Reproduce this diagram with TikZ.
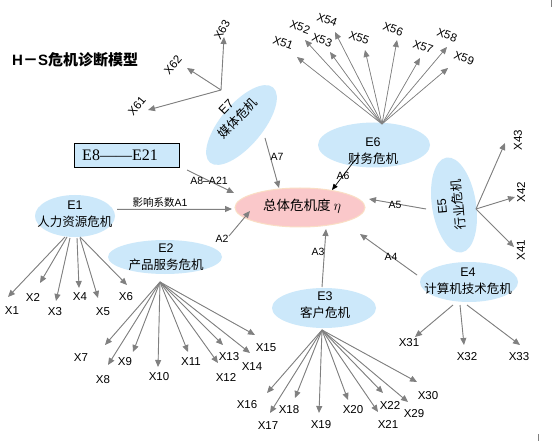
\documentclass[tikz,border=0pt]{standalone}
\usepackage{fontspec}
\setmainfont{Liberation Sans}
\newfontfamily\cjk{Noto Sans CJK SC}
\newfontfamily\serifE{Liberation Serif}
\usetikzlibrary{shapes.geometric,arrows.meta}
\definecolor{ellblue}{RGB}{204,232,250}
\definecolor{ellpink}{RGB}{250,200,202}
\definecolor{pinkedge}{RGB}{250,222,196}
\definecolor{arrgray}{RGB}{128,128,128}
\begin{document}
\begin{tikzpicture}[x=1pt,y=-1pt,
  ell/.style={ellipse, fill=ellblue, draw=none, inner sep=0pt},
  etext/.style={align=center, inner sep=0pt, font=\fontsize{12.5}{16.5}\selectfont},
  xl/.style={inner sep=0pt, font=\fontsize{11.5}{12}\selectfont},
  al/.style={inner sep=0pt, font=\fontsize{10.5}{11}\selectfont},
  arr/.style={draw=arrgray, fill=arrgray, line width=0.9pt, -{Triangle[length=7pt,width=6pt]}},
  blackarr/.style={draw=black, line width=0.7pt, -{Triangle[length=6pt,width=5pt]}},
]
\fill[white] (0,0) rectangle (552,441);
\useasboundingbox (0,0) rectangle (552,441);

% title
\node[anchor=west, inner sep=0pt, font=\bfseries\fontsize{15}{15}\selectfont] (title) at (12,60)
  {H{\cjk\bfseries －}S{\cjk\bfseries 危机诊断模型}};

% E8--E21 box
\node[draw=black, fill=ellblue, line width=0.8pt, minimum width=105, minimum height=24, inner sep=0pt] (e8) at (126.5,155.3) {};
\node[inner sep=0pt, font=\serifE\fontsize{16}{16}\selectfont] (e8t) at (120,155.5) {E8——E21};

% ellipses
\node[ell, minimum width=80, minimum height=42] (e1) at (75,216) {};
\node[etext] (e1t) at (75,214) {E1\\{\cjk 人力资源危机}};
\node[ell, minimum width=114, minimum height=34] (e2) at (165,257) {};
\node[etext] (e2t) at (166,257) {E2\\{\cjk 产品服务危机}};
\node[ell, minimum width=104, minimum height=40] (e3) at (324,308) {};
\node[etext] (e3t) at (325,305) {E3\\{\cjk 客户危机}};
\node[ell, minimum width=98, minimum height=40] (e4) at (469,282) {};
\node[etext] (e4t) at (468,281) {E4\\{\cjk 计算机技术危机}};
\node[ell, minimum width=96, minimum height=44, rotate=99] (e5) at (454,205) {};
\node[etext, rotate=95] (e5t) at (451,205.5) {E5\\{\cjk 行业危机}};
\node[ell, minimum width=112, minimum height=45] (e6) at (374,145) {};
\node[etext] (e6t) at (373,151) {E6\\{\cjk 财务危机}};
\node[ell, minimum width=98, minimum height=42, rotate=50] (e7) at (241.5,125) {};
\node[etext, rotate=46] (e7t) at (232.5,113) {E7\\{\cjk 媒体危机}};

% centre
\node[ellipse, fill=ellpink, draw=pinkedge, line width=1pt, minimum width=130, minimum height=39, inner sep=0pt] (c) at (300,207.5) {};
\node[inner sep=0pt, font=\cjk\fontsize{13.5}{14}\selectfont] (ct) at (302,206) {总体危机度 $\eta$};

% influence arrows into the centre
\coordinate (a1s) at (117,209); \coordinate (a1e) at (232,209);
\draw[arr] (a1s) -- (a1e);
\node[al] (a1l) at (160,203) {{\cjk 影响系数}A1};
\coordinate (a2s) at (229,236); \coordinate (a2e) at (250,211);
\draw[arr] (a2s) -- (a2e);
\node[al] (a2l) at (222,239) {A2};
\coordinate (a8s) at (187,170); \coordinate (a8e) at (234,193);
\draw[arr] (a8s) -- (a8e);
\node[al] (a8l) at (209,181) {A8–A21};
\coordinate (a7s) at (265,138); \coordinate (a7e) at (279,188);
\draw[arr] (a7s) -- (a7e);
\node[al] (a7l) at (277,157) {A7};
\coordinate (a6s) at (355,160); \coordinate (a6e) at (332,190);
\draw[blackarr] (a6s) -- (a6e);
\node[al] (a6l) at (343,176) {A6};
\coordinate (a5s) at (426,209); \coordinate (a5e) at (369,199);
\draw[arr] (a5s) -- (a5e);
\node[al] (a5l) at (395,205) {A5};
\coordinate (a4s) at (417,275); \coordinate (a4e) at (360,234);
\draw[arr] (a4s) -- (a4e);
\node[al] (a4l) at (391,257) {A4};
\coordinate (a3s) at (322,287); \coordinate (a3e) at (326,229);
\draw[arr] (a3s) -- (a3e);
\node[al] (a3l) at (318,252) {A3};

% E1 fan
\foreach \n/\ox/\oy/\tx/\ty/\lx/\ly in {1/65/237/8/297/12/311, 2/67/237/40/283/33/297, 3/70/238/56/301/55/312,
  4/77/238/79/288/80/297, 5/80/238/98/298/103/312, 6/80/237/127/285/126/297}{
  \coordinate (s\n) at (\ox,\oy); \coordinate (t\n) at (\tx,\ty);
  \draw[arr] (s\n) -- (t\n);
  \node[xl] (x\n) at (\lx,\ly) {X\n};
}
% E2 fan
\coordinate (o2) at (160,282);
\foreach \n/\tx/\ty/\lx/\ly in {7/105/345/81/358, 8/108/365/103/380, 9/133/352/125/362, 10/158/367/159/377,
  11/188/352/191/362, 12/218/363/226/377, 13/223/345/229/357, 14/250/353/252/367, 15/255/335/266/348}{
  \coordinate (t\n) at (\tx,\ty);
  \draw[arr] (o2) -- (t\n);
  \node[xl] (x\n) at (\lx,\ly) {X\n};
}
% E3 fan
\coordinate (o3) at (322,330);
\foreach \n/\tx/\ty/\lx/\ly in {16/267/393/247/405, 17/270/413/268/426, 18/295/398/289/410, 19/319/413/321/425,
  20/348/400/353/410, 21/378/412/388/424, 22/383/393/390/405, 29/408/402/414/414, 30/417/382/428/396}{
  \coordinate (t\n) at (\tx,\ty);
  \draw[arr] (o3) -- (t\n);
  \node[xl] (x\n) at (\lx,\ly) {X\n};
}
% E4 fan
\foreach \n/\ox/\tx/\ty/\lx/\ly in {31/453/415/337/409/343, 32/460/464/345/467/357, 33/467/520/345/519/357}{
  \coordinate (s\n) at (\ox,305); \coordinate (t\n) at (\tx,\ty);
  \draw[arr] (s\n) -- (t\n);
  \node[xl] (x\n) at (\lx,\ly) {X\n};
}
% E5 fan
\coordinate (o5) at (476,209);
\foreach \n/\tx/\ty/\lx/\ly in {43/505/143/518/140, 42/515/197/521/192, 41/514/247/521/250}{
  \coordinate (t\n) at (\tx,\ty);
  \draw[arr] (o5) -- (t\n);
  \node[xl, rotate=90] (x\n) at (\lx,\ly) {X\n};
}
% E6 fan
\coordinate (o6) at (382,124);
\foreach \n/\tx/\ty/\lx/\ly in {51/297/57/283/43, 52/305/40/300/27, 53/330/52/322/40, 54/335/32/327/20,
  55/365/50/359/38, 56/397/40/393/29, 57/420/58/423/47, 58/447/47/447/35, 59/448/68/464/58}{
  \coordinate (t\n) at (\tx,\ty);
  \draw[arr, line width=0.7pt] (o6) -- (t\n);
  \node[xl, rotate=-20] (x\n) at (\lx,\ly) {X\n};
}
% E7 fan
\coordinate (o7) at (221,90);
\foreach \n/\tx/\ty/\lx/\ly/\r in {61/148/110/137/106/50, 62/187/68/173/65/50, 63/224/37/222/30/60}{
  \coordinate (t\n) at (\tx,\ty);
  \draw[arr] (o7) -- (t\n);
  \node[xl, rotate=\r] (x\n) at (\lx,\ly) {X\n};
}

% small marks at the edges
\draw[arrgray, line width=0.8pt] (551,0) -- (551,7);
\draw[arrgray, line width=0.8pt] (538,434) -- (538,441);
\end{tikzpicture}
\end{document}
